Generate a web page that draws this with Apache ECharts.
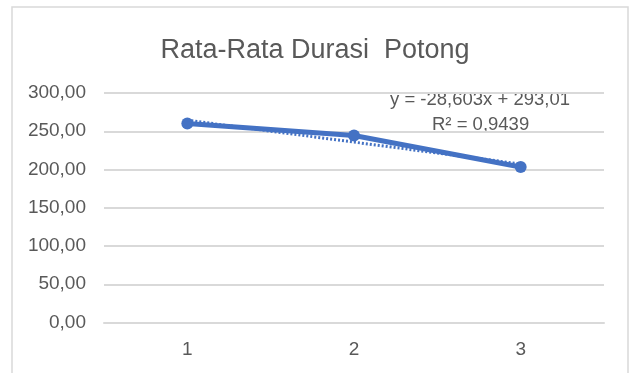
<!DOCTYPE html>
<html>
<head>
<meta charset="utf-8">
<script src="https://cdn.jsdelivr.net/npm/echarts@6/dist/echarts.min.js"></script>
<style>
html,body{margin:0;padding:0;background:#fff;}
#chart{width:630px;height:373px;}
</style>
</head>
<body>
<div id="chart"></div>
<script>
var titleText = 'Rata-Rata Durasi  Potong';
var categories = ['1', '2', '3'];
var durasi = [260.2, 244.5, 203.2];
var trendValues = [264.41, 235.80, 207.20];
var yTicks = [0, 50, 100, 150, 200, 250, 300];
var equationText = 'y = -28,603x + 293,01';
var r2Text = 'R² = 0,9439';

var chart = echarts.init(document.getElementById('chart'));
var font = '"Liberation Sans", Arial, sans-serif';
chart.setOption({
  backgroundColor: '#ffffff',
  animation: false,
  title: {
    text: titleText,
    left: 'center',
    top: 32,
    textStyle: { fontFamily: font, fontSize: 27, fontWeight: 'normal', color: '#595959' }
  },
  graphic: [
    { type: 'rect', shape: { x: 12, y: 7, width: 616, height: 380 },
      style: { fill: 'none', stroke: '#d9d9d9', lineWidth: 1.5 }, silent: true },
    { type: 'text', left: 390, top: 90,
      style: { text: equationText, fontFamily: font, fontSize: 18.5, fill: '#595959' } },
    { type: 'text', left: 432, top: 115,
      style: { text: r2Text, fontFamily: font, fontSize: 18.5, fill: '#595959' } }
  ],
  grid: { left: 104, right: 26, top: 93, bottom: 50.5 },
  xAxis: {
    type: 'category',
    data: categories,
    boundaryGap: true,
    axisLine: { show: true, lineStyle: { color: '#d9d9d9', width: 2 } },
    axisTick: { show: false },
    axisLabel: { fontFamily: font, fontSize: 19, color: '#595959', margin: 18 }
  },
  yAxis: {
    type: 'value',
    min: yTicks[0],
    max: yTicks[yTicks.length - 1],
    interval: yTicks[1] - yTicks[0],
    axisLine: { show: false },
    axisTick: { show: false },
    splitLine: { lineStyle: { color: '#d9d9d9', width: 2 } },
    axisLabel: {
      fontFamily: font, fontSize: 19, color: '#595959', margin: 18,
      formatter: function (v) { return v.toFixed(2).replace('.', ','); }
    }
  },
  series: [
    {
      type: 'line',
      data: durasi,
      symbol: 'circle',
      symbolSize: 12,
      lineStyle: { color: '#4472C4', width: 5 },
      itemStyle: { color: '#4472C4' },
      z: 3
    },
    {
      type: 'line',
      data: trendValues,
      symbol: 'none',
      lineStyle: { color: '#4472C4', width: 3, type: [2, 2] },
      z: 4
    }
  ]
});
</script>
</body>
</html>
